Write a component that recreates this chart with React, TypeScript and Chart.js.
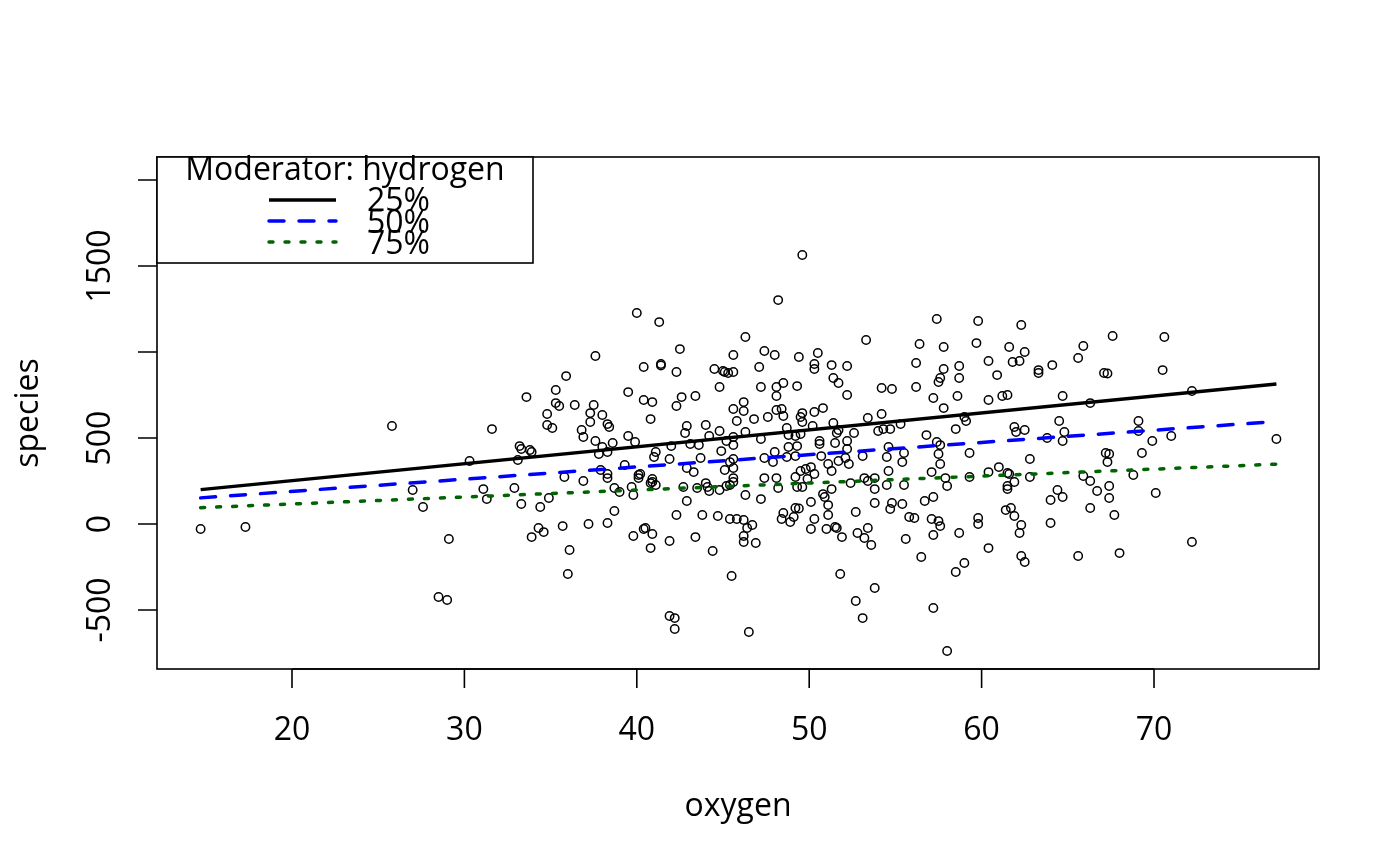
import { Chart, registerables } from "chart.js";
import { useEffect, useRef } from "react";

Chart.register(...registerables);

const observations: [number, number][] = [
  [14.7, -29], [17.3, -17], [25.8, 570], [27.0, 198], [27.6, 99], [29.1, -87], [28.5, -424], [29.0, -442], [30.3, 366],
  [40.0, 1227], [41.3, 1174], [42.5, 1017], [37.6, 977], [40.4, 913], [41.4, 930], [41.4, 922], [42.3, 884], [35.9, 860],
  [35.3, 779], [39.5, 767], [33.6, 738], [42.6, 738], [40.4, 721], [40.9, 709], [35.3, 703], [35.5, 686], [36.4, 692],
  [37.5, 692], [42.3, 686], [34.8, 640], [37.3, 645], [38.0, 634], [40.8, 610], [31.6, 552], [34.8, 576], [35.1, 558],
  [37.3, 593], [38.3, 581], [38.4, 564], [36.8, 547], [36.9, 506], [39.5, 512], [42.9, 570], [42.8, 529], [37.6, 483],
  [38.6, 471], [39.9, 477], [33.2, 453], [33.3, 436], [33.8, 430], [33.9, 419], [38.0, 448], [42.0, 453], [41.1, 419],
  [33.1, 372], [37.8, 407], [38.3, 419], [41.0, 390], [41.9, 378], [39.3, 343], [37.9, 314], [38.3, 291], [38.3, 267],
  [35.8, 273], [36.9, 250], [40.1, 285], [40.2, 291], [40.1, 267], [40.9, 262], [40.9, 244], [40.8, 238], [41.1, 227],
  [42.9, 326], [31.1, 203], [31.3, 145], [32.9, 209], [33.3, 116], [34.4, 99], [34.9, 151], [38.7, 209], [39.0, 186],
  [39.7, 215], [39.8, 169], [42.9, 134], [42.7, 215], [38.7, 76], [42.3, 52], [35.7, -12], [37.2, 0], [38.3, 6],
  [34.3, -23], [34.6, -47], [33.9, -76], [39.8, -70], [40.4, -29], [40.5, -23], [40.9, -58], [40.8, -140], [41.9, -99],
  [36.1, -151], [36.0, -291], [41.9, -535], [42.2, -547], [42.2, -610],
  [49.6, 1564], [48.2, 1302], [46.3, 1087], [53.3, 1070], [47.4, 1006], [48.0, 983], [45.6, 983], [49.4, 971], [50.5, 994],
  [50.3, 930], [50.3, 901], [51.3, 924], [52.2, 919], [47.1, 913], [44.5, 901], [45.1, 884], [45.3, 878], [45.6, 884],
  [45.0, 890], [44.8, 797], [47.2, 797], [48.1, 797], [48.5, 820], [49.3, 802], [51.4, 849], [51.7, 820], [52.2, 750],
  [54.2, 791], [54.8, 785], [43.4, 744], [48.1, 744], [46.2, 709], [45.6, 669], [46.2, 657], [48.1, 663], [48.4, 669],
  [48.5, 628], [47.6, 622], [46.8, 610], [45.8, 599], [49.6, 645], [49.5, 622], [49.6, 593], [50.3, 651], [50.8, 674],
  [53.4, 616], [54.2, 640], [44.0, 576], [44.8, 541], [44.2, 512], [46.3, 535], [45.6, 506], [45.2, 483], [45.6, 459],
  [47.2, 494], [44.9, 424], [43.1, 465], [43.6, 459], [48.7, 558], [48.8, 517], [49.2, 512], [49.5, 523], [50.2, 570],
  [50.6, 483], [50.6, 465], [51.4, 587], [51.6, 529], [51.7, 547], [52.2, 483], [52.6, 529], [51.5, 471], [54.0, 541],
  [54.3, 552], [54.7, 552], [54.6, 448], [52.2, 436], [48.0, 419], [48.8, 448], [49.3, 453],
  [43.7, 384], [43.3, 302], [45.4, 360], [45.6, 378], [45.6, 326], [45.1, 314], [47.4, 384], [47.9, 360], [49.2, 395],
  [48.7, 390], [50.7, 395], [51.7, 366], [52.1, 384], [52.3, 349], [53.1, 395], [54.5, 390], [51.1, 349], [51.3, 308],
  [54.6, 308], [44.0, 238], [44.1, 215], [44.2, 192], [43.5, 209], [44.8, 198], [45.2, 221], [45.4, 227], [45.6, 267],
  [45.6, 244], [46.3, 169], [47.2, 145], [47.4, 267], [48.1, 267], [48.2, 209], [49.2, 273], [49.5, 308], [49.8, 320],
  [50.1, 331], [50.3, 291], [49.9, 262], [49.3, 215], [49.6, 215], [51.3, 203], [50.8, 174], [50.9, 157], [51.1, 110],
  [50.1, 128], [52.4, 238], [53.2, 267], [53.4, 250], [53.8, 267], [53.8, 203], [54.5, 227], [53.8, 122], [54.8, 122],
  [54.7, 87], [52.7, 70], [43.8, 52], [44.7, 47], [43.4, -76], [44.4, -157], [45.4, 29], [45.8, 29], [46.2, 23],
  [46.7, -6], [46.4, -23], [46.2, -70], [46.2, -105], [46.9, -110], [48.5, 64], [48.4, 29], [49.1, 41], [48.9, 12],
  [49.2, 93], [49.4, 90], [50.3, 29], [50.1, -29], [51.1, 52], [51.0, -29], [51.5, -17], [51.6, -23], [51.9, -76],
  [52.8, -52], [53.4, -23], [53.2, -81], [53.6, -122], [45.5, -302], [51.8, -291], [53.8, -372], [52.7, -448],
  [53.1, -547], [46.5, -628],
  [57.4, 1192], [59.8, 1180], [62.3, 1157], [56.4, 1047], [57.8, 1029], [59.7, 1052], [61.6, 1029], [62.5, 1000],
  [65.9, 1035], [65.6, 965], [56.2, 936], [57.8, 901], [58.7, 919], [60.4, 948], [61.8, 942], [62.2, 948], [63.3, 895],
  [63.3, 878], [64.1, 924], [57.6, 849], [57.5, 826], [58.7, 849], [60.9, 866], [56.2, 797], [57.2, 733], [58.6, 744],
  [60.4, 721], [61.2, 744], [61.5, 750], [64.7, 744], [66.3, 703], [57.8, 674], [59.0, 622], [59.1, 599], [55.3, 581],
  [58.5, 552], [56.8, 517], [57.4, 477], [57.6, 459], [61.9, 564], [62.0, 535], [62.5, 547], [64.5, 599], [64.8, 535],
  [64.7, 483], [63.8, 500], [55.5, 413], [57.5, 407], [59.3, 413],
  [55.4, 360], [57.6, 349], [57.1, 302], [57.9, 267], [58.0, 221], [59.3, 273], [60.4, 302], [61.0, 331], [61.5, 297],
  [61.6, 291], [61.9, 244], [61.5, 221], [61.5, 203], [62.8, 273], [62.8, 378], [65.9, 279], [66.3, 250], [66.7, 192],
  [64.4, 198], [64.7, 157], [64.0, 140], [55.5, 227], [55.4, 116], [56.7, 134], [57.2, 157], [55.8, 41], [56.1, 35],
  [57.1, 29], [57.5, 17], [57.6, -12], [59.8, 35], [59.8, 0], [61.4, 81], [61.7, 93], [61.9, 47], [62.3, -6],
  [62.2, -52], [64.0, 6], [66.3, 93], [55.6, -87], [57.2, -64], [58.7, -52], [56.5, -192], [59.0, -227], [58.5, -279],
  [60.4, -140], [62.3, -186], [62.5, -221], [65.6, -186], [57.2, -488], [58.0, -738],
  [67.6, 1093], [70.6, 1087], [67.1, 878], [67.3, 875], [70.5, 895], [72.2, 773], [69.1, 599], [69.1, 541], [69.9, 483],
  [71.0, 512], [77.1, 494], [67.2, 413], [67.4, 407], [67.3, 360], [69.3, 413], [68.8, 285], [67.4, 221], [67.4, 151],
  [70.1, 180], [67.7, 52], [72.2, -105], [68.0, -169],
];

// simple slopes at the moderator quantiles
const lineOxygen = [14.7, 77.1];
const fit25 = [200, 814];
const fit50 = [152, 596];
const fit75 = [95, 348];

const quantileLabels = ["25%", "50%", "75%"];
const legendTitle = "Moderator: hydrogen";

const xTicks = [20, 30, 40, 50, 60, 70];
const yTicks = [-500, 0, 500, 1000, 1500, 2000];
const yTickLabels = ["-500", "0", "500", "", "1500", ""];

const lineColors = ["#000000", "#0000FF", "#006400"];
const lineDashes = [[], [15, 15], [4, 12]];

const FONT = "32px 'Open Sans'";

const rFrame = {
    id: "rFrame",
    afterDraw(chart: any) {
        const { ctx, chartArea: a, scales } = chart;
        const xs = scales.x;
        const ys = scales.y;
        ctx.save();
        ctx.strokeStyle = "#000";
        ctx.fillStyle = "#000";
        ctx.lineWidth = 1.6;
        ctx.setLineDash([]);

        // box
        ctx.strokeRect(a.left, a.top, a.right - a.left, a.bottom - a.top);

        // x axis
        ctx.font = FONT;
        ctx.textAlign = "center";
        ctx.textBaseline = "alphabetic";
        ctx.beginPath();
        ctx.moveTo(xs.getPixelForValue(xTicks[0]), a.bottom);
        ctx.lineTo(xs.getPixelForValue(xTicks[xTicks.length - 1]), a.bottom);
        xTicks.forEach(t => {
            const px = xs.getPixelForValue(t);
            ctx.moveTo(px, a.bottom);
            ctx.lineTo(px, a.bottom + 19);
        });
        ctx.stroke();
        xTicks.forEach(t => ctx.fillText(String(t), xs.getPixelForValue(t), 740));

        // y axis
        ctx.beginPath();
        yTicks.forEach(t => {
            const py = ys.getPixelForValue(t);
            ctx.moveTo(a.left, py);
            ctx.lineTo(a.left - 19, py);
        });
        ctx.stroke();
        yTicks.forEach((t, i) => {
            if (!yTickLabels[i]) return;
            ctx.save();
            ctx.translate(110, ys.getPixelForValue(t));
            ctx.rotate(-Math.PI / 2);
            ctx.fillText(yTickLabels[i], 0, 0);
            ctx.restore();
        });

        // axis titles
        ctx.fillText("oxygen", (a.left + a.right) / 2, 816);
        ctx.save();
        ctx.translate(38, (a.top + a.bottom) / 2);
        ctx.rotate(-Math.PI / 2);
        ctx.fillText("species", 0, 0);
        ctx.restore();

        // legend
        ctx.fillStyle = "#fff";
        ctx.fillRect(a.left, a.top, 376, 106);
        ctx.strokeRect(a.left, a.top, 376, 106);
        ctx.fillStyle = "#000";
        ctx.fillText(legendTitle, 345, 180);
        ctx.textAlign = "left";
        quantileLabels.forEach((lab, i) => {
            const y = 200 + i * 21;
            ctx.beginPath();
            ctx.strokeStyle = lineColors[i];
            ctx.lineWidth = 3.5;
            ctx.lineCap = i === 0 ? "butt" : "round";
            ctx.setLineDash(lineDashes[i]);
            ctx.moveTo(269, y);
            ctx.lineTo(336, y);
            ctx.stroke();
            ctx.fillText(lab, 367, 211 + i * 21.5);
        });
        ctx.restore();
    },
};

export default function App() {
    const canvasRef = useRef<HTMLCanvasElement>(null);
    const chartRef = useRef<Chart | null>(null);

    useEffect(() => {
        const fitSets = [fit25, fit50, fit75].map((fit, i) => ({
            type: "line" as const,
            label: quantileLabels[i],
            data: lineOxygen.map((x, j) => ({ x, y: fit[j] })),
            borderColor: lineColors[i],
            borderWidth: 3.5,
            borderDash: lineDashes[i],
            borderCapStyle: (i === 0 ? "butt" : "round") as CanvasLineCap,
            pointRadius: 0,
            fill: false,
            order: 0,
        }));

        chartRef.current = new Chart(canvasRef.current!, {
            type: "scatter",
            data: {
                datasets: [
                    ...fitSets,
                    {
                        type: "scatter" as const,
                        label: "species",
                        data: observations.map(([x, y]) => ({ x, y })),
                        pointStyle: "circle",
                        pointRadius: 4.2,
                        borderWidth: 1.5,
                        borderColor: "#000",
                        backgroundColor: "rgba(0,0,0,0)",
                        order: 1,
                    },
                ],
            } as any,
            options: {
                animation: false,
                responsive: false,
                devicePixelRatio: 1,
                events: [],
                layout: { padding: { left: 157, top: 157, right: 81, bottom: 197 } },
                scales: {
                    x: { type: "linear", min: 12.17, max: 79.57, display: false },
                    y: { type: "linear", min: -843, max: 2134, display: false },
                },
                plugins: { legend: { display: false }, tooltip: { enabled: false } },
            },
            plugins: [rFrame],
        });

        return () => chartRef.current?.destroy();
    }, []);

    return (
        <div style={{ position: "absolute", left: 0, top: 0, width: 1400, height: 866, background: "#fff" }}>
            <canvas ref={canvasRef} width={1400} height={866} style={{ display: "block" }} />
        </div>
    );
}
